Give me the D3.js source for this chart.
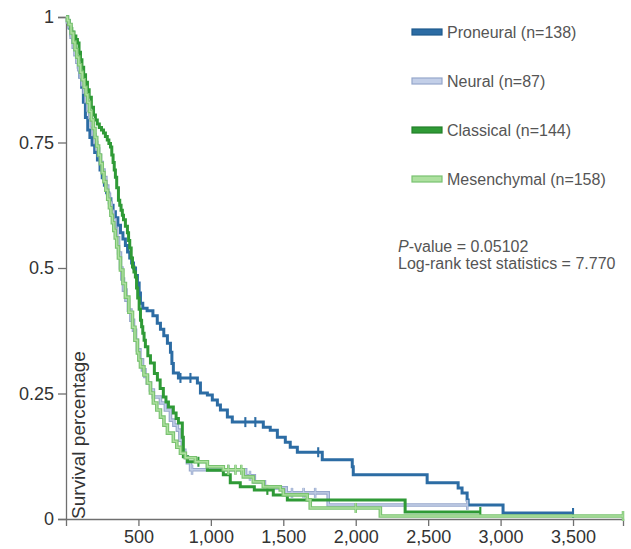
<!DOCTYPE html>
<html>
<head>
<meta charset="utf-8">
<script src="https://cdn.jsdelivr.net/npm/d3@7"></script>
<style>
  body { margin: 0; background: #fff; }
  svg { font-family: Arial, "Liberation Sans", sans-serif; }
</style>
</head>
<body>
<svg id="canvas" width="631" height="549"></svg>
<script>
// Kaplan-Meier curves: [days, survival]
let groupNames = ['Proneural (n=138)', 'Neural (n=87)', 'Classical (n=144)', 'Mesenchymal (n=158)']

let proneural = [[0,1],[10,0.993],[22,0.978],[35,0.964],[48,0.949],[60,0.935],[72,0.92],[85,0.9],[96,0.88],
  [108,0.86],[120,0.83],[134,0.8],[150,0.775],[165,0.76],[180,0.745],[198,0.73],[217,0.715],[235,0.695],
  [250,0.68],[265,0.665],[280,0.65],[295,0.638],[310,0.625],[325,0.612],[341,0.6],[358,0.585],[376,0.57],
  [393,0.558],[410,0.545],[425,0.532],[440,0.52],[453,0.51],[466,0.5],[480,0.485],[493,0.47],[505,0.45],
  [514,0.43],[530,0.42],[560,0.415],[600,0.405],[630,0.39],[652,0.378],[675,0.365],[700,0.35],[721,0.332],
  [731,0.31],[741,0.291],[776,0.281],[907,0.271],[928,0.251],[976,0.247],[1010,0.237],[1045,0.227],
  [1066,0.217],[1114,0.203],[1148,0.193],[1362,0.183],[1410,0.177],[1459,0.163],[1514,0.153],[1548,0.143],
  [1597,0.133],[1769,0.118],[1976,0.104],[1983,0.088],[2493,0.072],[2707,0.062],[2734,0.052],[2769,0.038],
  [2776,0.028],[3017,0.012],[3500,0.012]]
let neural = [[0,1],[10,0.99],[20,0.98],[35,0.96],[50,0.94],[62,0.925],[75,0.91],[88,0.895],[100,0.88],
  [112,0.865],[125,0.85],[138,0.832],[150,0.815],[163,0.8],[175,0.783],[188,0.766],[200,0.75],[212,0.737],
  [225,0.724],[238,0.71],[250,0.695],[262,0.68],[275,0.663],[288,0.647],[300,0.63],[312,0.613],[325,0.596],
  [338,0.578],[350,0.56],[363,0.53],[376,0.5],[386,0.478],[397,0.456],[414,0.436],[431,0.416],[448,0.396],
  [466,0.376],[480,0.356],[493,0.337],[510,0.317],[528,0.297],[545,0.284],[562,0.271],[583,0.257],[603,0.243],
  [652,0.231],[686,0.217],[721,0.197],[745,0.187],[769,0.177],[786,0.157],[803,0.137],[820,0.124],[838,0.112],
  [860,0.098],[1240,0.086],[1300,0.074],[1370,0.062],[1520,0.052],[1810,0.028],[2770,0.028]]
let classical = [[0,1],[10,0.993],[20,0.985],[30,0.977],[40,0.97],[55,0.962],[68,0.955],[79,0.948],[90,0.93],
  [100,0.915],[110,0.9],[122,0.885],[135,0.87],[148,0.855],[160,0.84],[175,0.82],[190,0.805],[203,0.795],
  [216,0.787],[230,0.78],[245,0.775],[259,0.769],[272,0.762],[285,0.755],[296,0.748],[307,0.741],[316,0.725],
  [325,0.71],[333,0.695],[341,0.681],[350,0.66],[362,0.635],[371,0.625],[380,0.615],[389,0.605],[397,0.596],
  [410,0.583],[424,0.57],[432,0.555],[440,0.54],[450,0.52],[459,0.502],[469,0.492],[479,0.482],[487,0.46],
  [495,0.44],[505,0.418],[514,0.396],[522,0.383],[530,0.37],[539,0.356],[548,0.343],[565,0.325],[583,0.311],
  [610,0.29],[631,0.277],[650,0.26],[672,0.243],[690,0.233],[707,0.223],[741,0.211],[760,0.2],[776,0.191],
  [803,0.163],[810,0.124],[838,0.114],[976,0.097],[1086,0.088],[1134,0.072],[1203,0.064],[1300,0.058],
  [1431,0.048],[1528,0.038],[2341,0.014],[2860,0.014]]
let mesenchymal = [[0,1],[10,0.993],[20,0.985],[35,0.968],[50,0.95],[62,0.935],[75,0.92],[88,0.905],[100,0.89],
  [112,0.875],[125,0.86],[138,0.845],[150,0.83],[162,0.812],[175,0.795],[188,0.778],[200,0.76],[212,0.743],
  [225,0.725],[238,0.708],[250,0.69],[262,0.672],[275,0.655],[288,0.637],[300,0.62],[310,0.605],[320,0.59],
  [330,0.575],[340,0.56],[350,0.542],[362,0.52],[376,0.496],[393,0.469],[410,0.442],[434,0.412],[459,0.382],
  [476,0.356],[493,0.331],[503,0.317],[514,0.303],[538,0.287],[562,0.271],[583,0.251],[603,0.231],[627,0.217],
  [652,0.203],[676,0.187],[700,0.171],[741,0.155],[765,0.143],[790,0.131],[824,0.122],[893,0.114],[976,0.104],
  [1086,0.098],[1224,0.084],[1293,0.074],[1362,0.064],[1479,0.058],[1500,0.048],[1665,0.038],[1686,0.022],
  [2170,0.006],[3845,0.006]]

// censored times (small vertical ticks)
let proneuralCensor = [790, 859, 1238, 1307, 1741, 3500]
let neuralCensor = [870, 1120, 1270, 1560, 1640, 1720, 2770]
let classicalCensor = [914, 1390, 2860]
let mesenchymalCensor = [1120, 1170, 1210, 2000, 3845]

let yTicks = [0, 0.25, 0.5, 0.75, 1]
let xTicks = [500, 1000, 1500, 2000, 2500, 3000, 3500]
let pValueText = '-value = 0.05102'
let logRankText = 'Log-rank test statistics = 7.770'

let groups = [
  { name: groupNames[0], data: proneural, censor: proneuralCensor, color: '#2c6ca4', edge: '#1f5a8e', light: false },
  { name: groupNames[1], data: neural, censor: neuralCensor, color: '#c3cfe8', edge: '#96a7cb', light: true },
  { name: groupNames[2], data: classical, censor: classicalCensor, color: '#2f9a36', edge: '#23802a', light: false },
  { name: groupNames[3], data: mesenchymal, censor: mesenchymalCensor, color: '#ade09f', edge: '#79c270', light: true }
]

let canvas = d3.select('#canvas')
let margin = { left: 66, top: 17, right: 8, bottom: 30 }
let width = 631 - margin.left - margin.right
let height = 549 - margin.top - margin.bottom

let maxTime = d3.max(groups, g => d3.max(g.data, d => d[0]))

let xScale = d3.scaleLinear().domain([0, maxTime]).range([0, width])
let yScale = d3.scaleLinear().domain([0, 1]).range([height, 0])

let plot = canvas.append('g').attr('transform', `translate(${margin.left},${margin.top})`)

// axes
let xAxis = d3.axisBottom(xScale).tickValues(xTicks).tickFormat(d3.format(',')).tickSize(7).tickPadding(4)
let yAxis = d3.axisLeft(yScale).tickValues(yTicks).tickFormat(d => String(d)).tickSize(8).tickPadding(4)

let gx = plot.append('g').attr('transform', `translate(0,${height})`).call(xAxis)
let gy = plot.append('g').call(yAxis)

for (let g of [gx, gy]) {
  g.selectAll('path, line').attr('stroke', '#6f6f6f').attr('stroke-width', 1.3)
  g.selectAll('text').attr('fill', '#333').style('font-size', '18px')
}

// y label inside the plot
plot.append('text')
  .attr('transform', `translate(19,${height}) rotate(-90)`)
  .attr('text-anchor', 'start')
  .attr('fill', '#333')
  .style('font-size', '19px')
  .text('Survival percentage')

// curves
let line = d3.line()
  .x(d => xScale(d[0]))
  .y(d => yScale(d[1]))
  .curve(d3.curveStepAfter)

let survAt = (data, t) => {
  let s = data[0][1]
  for (let d of data) { if (d[0] <= t) s = d[1] }
  return s
}

groups.forEach(g => {
  let layer = plot.append('g')
  let strokes = g.light ? [[g.edge, 3.6], [g.color, 1.4]] : [[g.color, 3]]
  strokes.forEach(([col, w]) => {
    layer.append('path')
      .datum(g.data)
      .attr('d', line)
      .attr('fill', 'none')
      .attr('stroke', col)
      .attr('stroke-width', w)
    layer.selectAll(null)
      .data(g.censor)
      .enter()
      .append('line')
      .attr('x1', d => xScale(d))
      .attr('x2', d => xScale(d))
      .attr('y1', d => yScale(survAt(g.data, d)) - 5)
      .attr('y2', d => yScale(survAt(g.data, d)) + 5)
      .attr('stroke', col)
      .attr('stroke-width', w * 0.7)
  })
})

// legend
let legend = canvas.append('g').attr('transform', 'translate(412,32)')
let item = legend.selectAll('g')
  .data(groups)
  .enter()
  .append('g')
  .attr('transform', (d, i) => `translate(0,${i * 49})`)

item.append('rect')
  .attr('x', 0).attr('y', -3).attr('width', 30).attr('height', 6)
  .attr('fill', d => d.color)
  .attr('stroke', d => d.edge)
  .attr('stroke-width', 1.2)

item.append('text')
  .attr('x', 35).attr('y', 5.5)
  .attr('fill', '#555')
  .style('font-size', '16px')
  .text(d => d.name)

let stats = canvas.append('g').attr('fill', '#555').style('font-size', '16px')
let pText = stats.append('text').attr('x', 398).attr('y', 252)
pText.append('tspan').style('font-style', 'italic').text('P')
pText.append('tspan').text(pValueText)
stats.append('text').attr('x', 398).attr('y', 269).text(logRankText)
</script>
</body>
</html>
